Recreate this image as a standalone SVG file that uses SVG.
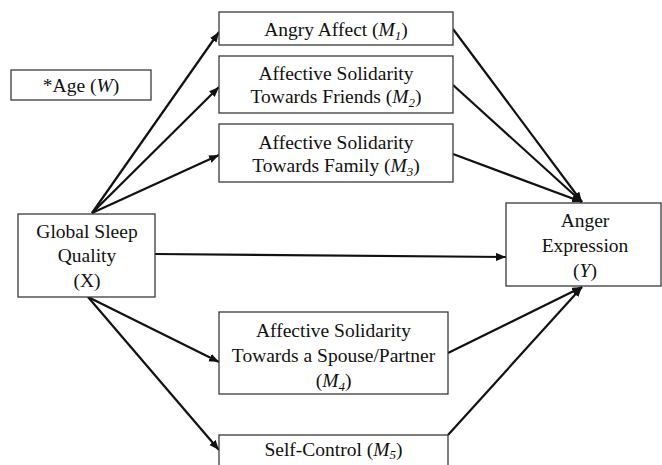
<svg xmlns="http://www.w3.org/2000/svg" width="662" height="465" viewBox="0 0 662 465">
<style>
.box{fill:#fff;stroke:#3a3a3a;stroke-width:1.3}
text{font-family:"Liberation Serif","Times New Roman",serif;font-size:19.5px;fill:#111;text-anchor:middle}
.i{font-style:italic}
.s{font-size:13px;font-style:italic}
.c{stroke:#111;stroke-width:2.2;fill:none;marker-end:url(#ah)}
</style>
<defs>
<marker id="ah" markerUnits="userSpaceOnUse" markerWidth="12" markerHeight="10" refX="10" refY="4" orient="auto">
<path d="M0,0 L10,4 L0,8 Z" fill="#111"/>
</marker>
</defs>
<rect width="662" height="465" fill="#fff"/>
<g id="connectors">
<line class="c" x1="92" y1="213" x2="219" y2="32"/>
<line class="c" x1="92" y1="213" x2="219" y2="87"/>
<line class="c" x1="92" y1="213" x2="219" y2="155"/>
<line class="c" x1="453" y1="29" x2="582" y2="202"/>
<line class="c" x1="453" y1="85" x2="582" y2="202"/>
<line class="c" x1="453" y1="154" x2="582" y2="202"/>
<line class="c" x1="155" y1="254" x2="506" y2="257"/>
<line class="c" x1="88" y1="297" x2="219" y2="362"/>
<line class="c" x1="88" y1="297" x2="219" y2="450"/>
<line class="c" x1="448" y1="353" x2="582" y2="287"/>
<line class="c" x1="448" y1="435" x2="582" y2="287"/>
</g>
<g id="age">
<rect class="box" x="11" y="70" width="140" height="30"/>
<text x="81" y="92">*Age (<tspan class="i">W</tspan>)</text>
</g>
<g id="m1">
<rect class="box" x="219" y="12" width="234" height="33"/>
<text x="336" y="36">Angry Affect (<tspan class="i">M</tspan><tspan class="s" dy="4">1</tspan><tspan dy="-4">)</tspan></text>
</g>
<g id="m2">
<rect class="box" x="219" y="56" width="234" height="57"/>
<text x="336" y="80">Affective Solidarity</text>
<text x="336" y="103">Towards Friends (<tspan class="i">M</tspan><tspan class="s" dy="4">2</tspan><tspan dy="-4">)</tspan></text>
</g>
<g id="m3">
<rect class="box" x="219" y="124" width="234" height="58"/>
<text x="336" y="149">Affective Solidarity</text>
<text x="336" y="172">Towards Family (<tspan class="i">M</tspan><tspan class="s" dy="4">3</tspan><tspan dy="-4">)</tspan></text>
</g>
<g id="x">
<rect class="box" x="18" y="214" width="137" height="83"/>
<text x="87" y="238">Global Sleep</text>
<text x="87" y="262">Quality</text>
<text x="87" y="287">(X)</text>
</g>
<g id="y">
<rect class="box" x="506" y="203" width="155" height="83"/>
<text x="585" y="227">Anger</text>
<text x="585" y="252">Expression</text>
<text x="585" y="277">(<tspan class="i">Y</tspan>)</text>
</g>
<g id="m4">
<rect class="box" x="219" y="312" width="229" height="82"/>
<text x="333.5" y="337">Affective Solidarity</text>
<text x="333.5" y="362">Towards a Spouse/Partner</text>
<text x="333.5" y="387">(<tspan class="i">M</tspan><tspan class="s" dy="4">4</tspan><tspan dy="-4">)</tspan></text>
</g>
<g id="m5">
<rect class="box" x="219" y="435" width="229" height="40"/>
<text x="333.5" y="456">Self-Control (<tspan class="i">M</tspan><tspan class="s" dy="3">5</tspan><tspan dy="-3">)</tspan></text>
</g>
</svg>
